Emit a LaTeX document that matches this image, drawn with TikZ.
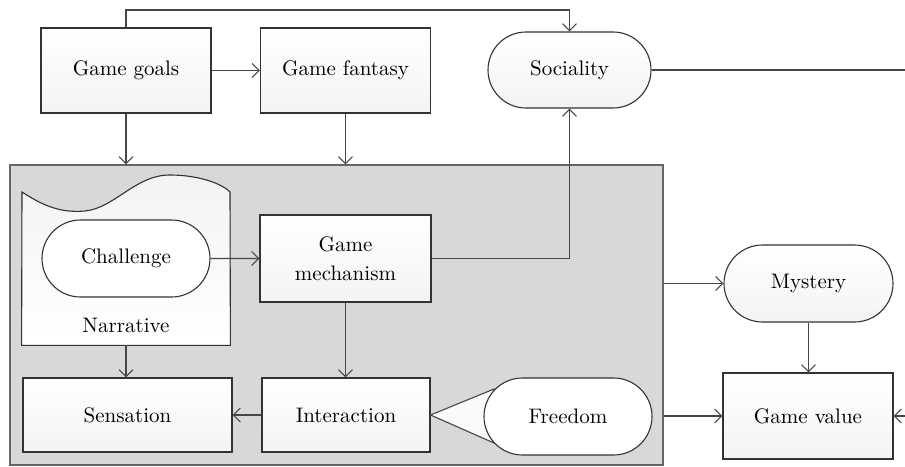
\documentclass[tikz,border=0pt]{standalone}
\usetikzlibrary{arrows.meta,shapes.misc,calc}

\definecolor{linegray}{HTML}{474747}
\definecolor{panelgray}{HTML}{D8D8D8}

\tikzset{
  box/.style={draw=black!80, line width=0.55pt, top color=white, bottom color=gray!9,
    minimum width=85pt, minimum height=42.5pt, inner sep=1pt, align=center, font=\fontsize{10.5}{14.5}\selectfont},
  term/.style={box, rounded rectangle, minimum width=86pt, minimum height=38.5pt},
  link/.style={draw=linegray, line width=0.55pt, -{Straight Barb[length=3.5pt,width=7pt]}},
  plain/.style={draw=linegray, line width=0.55pt}
}

\begin{document}
\begin{tikzpicture}[x=0.5pt,y=-0.5pt]
					\useasboundingbox (0,0) rectangle (905,466);

					% grey panel
					\node[draw=black!60, fill=panelgray, line width=0.55pt, minimum width=326.5pt, minimum height=150pt, inner sep=0pt] (core) at (336.5,315) {};

					% top row
					\node[box] (goals) at (126,70.5) {Game goals};
					\node[box] (fantasy) at (345.5,70.5) {Game fantasy};
					\node[term, minimum width=83.5pt, minimum height=38pt] (soc) at (569.5,70) {Sociality};

					% narrative card
					\node[minimum width=104pt, minimum height=76.5pt, inner sep=0pt] (narrative) at (126,268.5) {};
					\fill[top color=gray!9, bottom color=white] (narrative.south west) -- (22,192)
						.. controls (45,207) and (62,213) .. (85,211)
						.. controls (115,208) and (135,175) .. (170,175)
						.. controls (195,175) and (220,182) .. (230,192) -- (narrative.south east) -- cycle;
					\draw[black!80, line width=0.55pt] (narrative.south west) -- (22,192)
						.. controls (45,207) and (62,213) .. (85,211)
						.. controls (115,208) and (135,175) .. (170,175)
						.. controls (195,175) and (220,182) .. (230,192) -- (narrative.south east) -- cycle;
					\node[font=\fontsize{10.5}{14.5}\selectfont] (narlabel) at (126,325) {Narrative};
					\node[term, top color=white, bottom color=white] (chal) at (126,258.5) {Challenge};

					\node[box, minimum width=85.5pt, minimum height=43.5pt] (mech) at (345.5,258.5) {Game\\mechanism};

					% bottom row
					\node[box, minimum width=104.5pt, minimum height=37pt] (sens) at (127.5,415) {Sensation};
					\node[box, minimum width=84pt, minimum height=37pt] (inter) at (346,415) {Interaction};
					\coordinate (callA) at (494,389);
					\coordinate (callB) at (494,443);
					\filldraw[fill=gray!4, draw=linegray, line width=0.55pt] (inter.east) -- (callA) -- (callB) -- cycle;
					\node[term, top color=white, bottom color=white] (free) at (568,416.5) {Freedom};

					% right column
					\node[term, minimum width=86.5pt] (myst) at (808.5,283.5) {Mystery};
					\node[box, minimum height=43pt] (value) at (808,416) {Game value};
					\coordinate (socout) at (905,70);
					\coordinate (valin) at (905,416);

					% connectors
					\draw[link] (goals) -- (fantasy);
					\draw[link] (goals.north) -- (goals.north |- 0,10) -| (soc.north);
					\draw[link] (goals.south) -- (goals.south |- core.north);
					\draw[link] (fantasy.south) -- (fantasy.south |- core.north);
					\draw[link] (chal) -- (mech);
					\draw[link] (mech.east) -| (soc.south);
					\draw[plain] (soc.east) -- (socout);
					\draw[link] (narrative.south) -- (narrative.south |- sens.north);
					\draw[link] (mech.south) -- (mech.south |- inter.north);
					\draw[link] (inter) -- (sens);
					\draw[link] (core.east |- myst) -- (myst);
					\draw[link] (myst.south) -- (myst.south |- value.north);
					\draw[link] (core.east |- value) -- (value);
					\draw[link] (valin) -- (value.east);
\end{tikzpicture}
\end{document}
